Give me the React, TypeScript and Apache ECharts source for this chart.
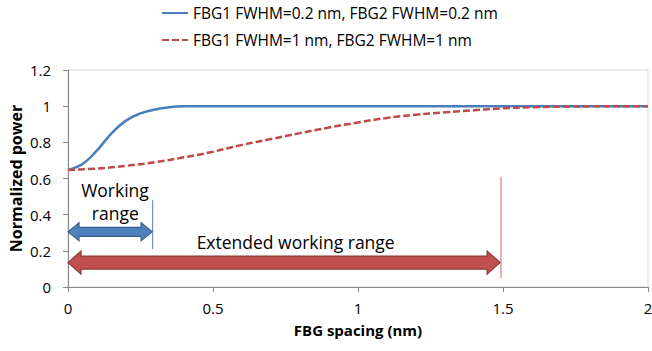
import React, { useEffect, useRef } from "react";
import * as echarts from "echarts";

const seriesNames = [
  "FBG1 FWHM=0.2 nm, FBG2 FWHM=0.2 nm",
  "FBG1 FWHM=1 nm, FBG2 FWHM=1 nm",
];

const narrowX = [0, 0.05, 0.1, 0.15, 0.2, 0.25, 0.3, 0.35, 0.4, 0.45, 0.5, 0.75, 1, 1.25, 1.5, 1.75, 2];
const narrowPower = [0.647, 0.68, 0.755, 0.85, 0.92, 0.96, 0.982, 0.994, 0.999, 1, 1, 1, 1, 1, 1, 1, 1];

const wideX = [0, 0.1, 0.2, 0.3, 0.4, 0.5, 0.6, 0.7, 0.8, 0.9, 1.0, 1.1, 1.2, 1.3, 1.4, 1.5, 1.6, 1.7, 1.8, 1.9, 2.0];
const widePower = [0.647, 0.655, 0.67, 0.69, 0.717, 0.748, 0.786, 0.818, 0.851, 0.882, 0.91, 0.935, 0.953, 0.966, 0.978, 0.988, 0.994, 0.997, 0.999, 1.0, 1.0];

// range arrows: [start x, end x, y]
const rangeArrows = [
  [0, 0.29, 0.305],
  [0, 1.49, 0.135],
];
// vertical range limit lines: [x, y bottom, y top]
const limitLines = [
  [0.292, 0.21, 0.48],
  [1.493, 0.05, 0.61],
];
// annotation texts: [x, y]
const annotationPos = [
  [0.162, 0.536],
  [0.163, 0.41],
  [0.785, 0.249],
];
const annotationText = ["Working", "range", "Extended working range"];

const FONT = "Open Sans";

export default function App() {
  const ref = useRef<HTMLDivElement>(null);
  useEffect(() => {
    if (!ref.current) return;
    const chart = echarts.init(ref.current, null, { renderer: "svg" });
    const arrowStyles = [
      { fill: "#4F81BD", stroke: "#385D8A", hl: 11, hh: 9, sh: 4.5 },
      { fill: "#C0504D", stroke: "#8C3836", hl: 13, hh: 11.5, sh: 6.5 },
    ];
    const lineColors = ["#4F81BD", "#E06666"];
    chart.setOption({
      animation: false,
      backgroundColor: "#ffffff",
      textStyle: { fontFamily: FONT },
      legend: {
        orient: "vertical",
        left: 156,
        top: 0,
        itemWidth: 26,
        itemHeight: 14,
        itemGap: 11,
        itemStyle: { color: "rgba(0,0,0,0)", borderColor: "rgba(0,0,0,0)", borderWidth: 0 },
        textStyle: { fontFamily: FONT, fontSize: 15.5, color: "#000" },
        data: seriesNames,
      },
      grid: {
        left: 68,
        right: 4,
        top: 70,
        bottom: 64,
        containLabel: false,
        outerBoundsMode: "none",
        show: true,
        borderColor: "#D9D9D9",
        borderWidth: 1,
      },
      xAxis: {
        type: "value",
        min: 0,
        max: 2,
        interval: 0.5,
        name: "FBG spacing (nm)",
        nameLocation: "middle",
        nameGap: 35,
        nameMoveOverlap: false,
        nameTextStyle: { fontFamily: FONT, fontSize: 15, fontWeight: "bold", color: "#000" },
        axisLine: { show: true, lineStyle: { color: "#868686", width: 1 } },
        axisTick: { show: true, inside: false, length: 5, lineStyle: { color: "#868686" } },
        axisLabel: {
          fontFamily: FONT,
          fontSize: 15,
          color: "#000",
          margin: 13,
          showMaxLabel: true,
          hideOverlap: false,
          formatter: (v: number) => String(v),
        },
        splitLine: { show: false },
      },
      yAxis: {
        type: "value",
        min: 0,
        max: 1.2,
        interval: 0.2,
        name: "Normalized power",
        nameLocation: "middle",
        nameGap: 44,
        nameMoveOverlap: false,
        nameTextStyle: { fontFamily: FONT, fontSize: 16, fontWeight: "bold", color: "#000" },
        axisLine: { show: true, lineStyle: { color: "#868686", width: 1 } },
        axisTick: { show: true, inside: false, length: 5, lineStyle: { color: "#868686" } },
        axisLabel: {
          fontFamily: FONT,
          fontSize: 15,
          color: "#000",
          margin: 17,
          formatter: (v: number) => String(Math.round(v * 10) / 10),
        },
        splitLine: { show: false },
      },
      series: [
        {
          name: seriesNames[0],
          type: "line",
          smooth: 0.4,
          symbol: "none",
          data: narrowX.map((x, i) => [x, narrowPower[i]]),
          lineStyle: { color: "#4A7EBB", width: 2.5 },
          itemStyle: { color: "#4A7EBB" },
          z: 3,
        },
        {
          name: seriesNames[1],
          type: "line",
          smooth: 0.4,
          symbol: "none",
          data: wideX.map((x, i) => [x, widePower[i]]),
          lineStyle: { color: "#BE4B48", width: 2.5, type: [7, 3] },
          itemStyle: { color: "#BE4B48" },
          z: 3,
        },
        {
          type: "custom",
          coordinateSystem: "cartesian2d",
          clip: false,
          silent: true,
          z: 4,
          data: limitLines,
          renderItem: (params: any, api: any) => {
            const p0 = api.coord([api.value(0), api.value(1)]);
            const p1 = api.coord([api.value(0), api.value(2)]);
            return {
              type: "line",
              shape: { x1: p0[0], y1: p0[1], x2: p1[0], y2: p1[1] },
              style: { stroke: lineColors[params.dataIndex], lineWidth: 1 },
            };
          },
        },
        {
          type: "custom",
          coordinateSystem: "cartesian2d",
          clip: false,
          silent: true,
          z: 5,
          data: rangeArrows,
          renderItem: (params: any, api: any) => {
            const s = arrowStyles[params.dataIndex];
            const a = api.coord([api.value(0), api.value(2)]);
            const b = api.coord([api.value(1), api.value(2)]);
            const x0 = a[0], x1 = b[0], y = a[1];
            const pts = [
              [x0, y],
              [x0 + s.hl, y - s.hh],
              [x0 + s.hl, y - s.sh],
              [x1 - s.hl, y - s.sh],
              [x1 - s.hl, y - s.hh],
              [x1, y],
              [x1 - s.hl, y + s.hh],
              [x1 - s.hl, y + s.sh],
              [x0 + s.hl, y + s.sh],
              [x0 + s.hl, y + s.hh],
            ];
            return {
              type: "polygon",
              shape: { points: pts },
              style: { fill: s.fill, stroke: s.stroke, lineWidth: 1.2 },
            };
          },
        },
        {
          type: "custom",
          coordinateSystem: "cartesian2d",
          clip: false,
          silent: true,
          z: 6,
          data: annotationPos,
          renderItem: (params: any, api: any) => {
            const p = api.coord([api.value(0), api.value(1)]);
            return {
              type: "text",
              x: p[0],
              y: p[1],
              style: {
                text: annotationText[params.dataIndex],
                fill: "#000",
                font: `17.5px "${FONT}"`,
                align: "center",
                verticalAlign: "middle",
              },
            };
          },
        },
      ],
    });
    return () => chart.dispose();
  }, []);
  return (
    <div
      ref={ref}
      style={{ position: "fixed", left: 0, top: 0, width: 652, height: 351 }}
    />
  );
}
